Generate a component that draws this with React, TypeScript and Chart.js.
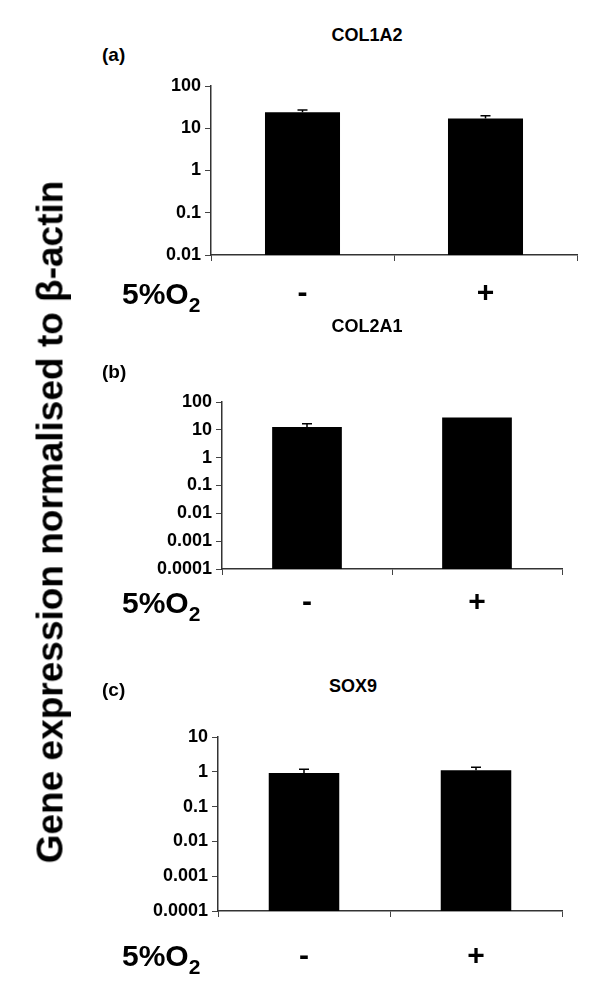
import React, { useEffect, useRef } from "react";
import { Chart, registerables } from "chart.js";

Chart.register(...registerables);

const FONT = "'Liberation Sans', Arial, Helvetica, sans-serif";

// ---- data ----
const CATEGORIES = ["-", "+"];

const COL1A2_MEAN = [24, 17];
const COL1A2_ERR_TOP = [27, 19.8];

const COL2A1_MEAN = [12.6, 28];
const COL2A1_ERR_TOP = [16.6, 28];

const SOX9_MEAN = [0.93, 1.11];
const SOX9_ERR_TOP = [1.19, 1.36];

const TICKS_A = [0.01, 0.1, 1, 10, 100];
const TICK_LABELS_A = ["0.01", "0.1", "1", "10", "100"];

const TICKS_B = [0.0001, 0.001, 0.01, 0.1, 1, 10, 100];
const TICK_LABELS_B = ["0.0001", "0.001", "0.01", "0.1", "1", "10", "100"];

const TICKS_C = [0.0001, 0.001, 0.01, 0.1, 1, 10];
const TICK_LABELS_C = ["0.0001", "0.001", "0.01", "0.1", "1", "10"];

const PANEL_TITLES = ["COL1A2", "COL2A1", "SOX9"];
const PANEL_LETTERS = ["(a)", "(b)", "(c)"];
const Y_TITLE = "Gene expression normalised to β-actin";

// ---- layout (pixel geometry) ----
type Spec = {
  mean: number[];
  errTop: number[];
  ticks: number[];
  tickLabels: string[];
  left: number;
  right: number;
  top: number;
  bottom: number;
  xPad: number;
};

const SPECS: Spec[] = [
  { mean: COL1A2_MEAN, errTop: COL1A2_ERR_TOP, ticks: TICKS_A, tickLabels: TICK_LABELS_A, left: 211, right: 577, top: 86, bottom: 255, xPad: 15 },
  { mean: COL2A1_MEAN, errTop: COL2A1_ERR_TOP, ticks: TICKS_B, tickLabels: TICK_LABELS_B, left: 222, right: 562, top: 402, bottom: 569, xPad: 10 },
  { mean: SOX9_MEAN, errTop: SOX9_ERR_TOP, ticks: TICKS_C, tickLabels: TICK_LABELS_C, left: 218, right: 562, top: 737, bottom: 911, xPad: 22 },
];

const PAD_TOP = 20;
const X_AXIS_H = 80;

const errorBarPlugin = {
  id: "errbars",
  afterDatasetsDraw(chart: any, _args: any, opts: any) {
    const tops: number[] = opts.tops || [];
    const meta = chart.getDatasetMeta(0);
    const y = chart.scales.y;
    const ctx = chart.ctx;
    ctx.save();
    ctx.strokeStyle = "#000";
    ctx.lineWidth = 1.5;
    meta.data.forEach((bar: any, i: number) => {
      const x = bar.x;
      const y0 = bar.y;
      const y1 = y.getPixelForValue(tops[i]);
      if (y0 - y1 < 0.5) return;
      ctx.beginPath();
      ctx.moveTo(x, y0);
      ctx.lineTo(x, y1);
      ctx.moveTo(x - 5, y1);
      ctx.lineTo(x + 5, y1);
      ctx.stroke();
    });
    ctx.restore();
  },
};

function Panel({ spec }: { spec: Spec }) {
  const ref = useRef<HTMLCanvasElement>(null);
  const h = spec.bottom - spec.top + PAD_TOP + X_AXIS_H;
  useEffect(() => {
    if (!ref.current) return;
    const chart = new Chart(ref.current, {
      type: "bar",
      data: {
        labels: CATEGORIES,
        datasets: [
          {
            data: spec.mean,
            backgroundColor: "#000",
            borderWidth: 0,
            barPercentage: 0.41,
            categoryPercentage: 1.0,
          },
        ],
      },
      options: {
        responsive: false,
        animation: false,
        devicePixelRatio: 1,
        layout: { padding: { top: PAD_TOP, left: 0, right: 600 - spec.right, bottom: 0 } },
        plugins: {
          legend: { display: false },
          tooltip: { enabled: false },
          title: { display: false },
          errbars: { tops: spec.errTop },
        } as any,
        scales: {
          x: {
            type: "category",
            offset: true,
            grid: { offset: true, drawOnChartArea: false, drawTicks: true, tickLength: 6, color: "#444", lineWidth: 1 },
            border: { display: true, color: "#333", width: 1.5 },
            ticks: {
              color: "#000",
              font: { family: FONT, size: 30, weight: "bold" },
              padding: spec.xPad,
              maxRotation: 0,
              autoSkip: false,
            },
            afterFit: (s: any) => {
              s.height = X_AXIS_H;
            },
          },
          y: {
            type: "logarithmic",
            min: spec.ticks[0],
            max: spec.ticks[spec.ticks.length - 1],
            afterBuildTicks: (s: any) => {
              s.ticks = spec.ticks.map((v) => ({ value: v, major: true }));
            },
            grid: { drawOnChartArea: false, drawTicks: true, tickLength: 6, color: "#444", lineWidth: 1 },
            border: { display: true, color: "#333", width: 1.5 },
            ticks: {
              color: "#000",
              font: { family: FONT, size: 18, weight: "bold" },
              padding: 4,
              autoSkip: false,
              callback: (_v: any, i: number) => spec.tickLabels[i],
            },
            afterFit: (s: any) => {
              s.width = spec.left;
            },
          },
        },
      },
      plugins: [errorBarPlugin],
    });
    return () => chart.destroy();
  }, [spec]);
  return (
    <canvas
      ref={ref}
      width={600}
      height={h}
      style={{ position: "absolute", left: 0, top: spec.top - PAD_TOP, width: 600, height: h }}
    />
  );
}

const textBase: React.CSSProperties = {
  position: "absolute",
  fontFamily: FONT,
  fontWeight: "bold",
  color: "#000",
  whiteSpace: "nowrap",
};

const TITLE_POS = [
  { x: 367, y: 35 },
  { x: 367, y: 326 },
  { x: 353, y: 686 },
];
const LETTER_POS = [54, 371, 689];
const O2_POS = [293.5, 603, 956];

export default function App() {
  return (
    <div style={{ position: "absolute", left: 0, top: 0, width: 600, height: 1002, background: "#fff", overflow: "hidden" }}>
      {SPECS.map((s, i) => (
        <Panel key={i} spec={s} />
      ))}
      {PANEL_TITLES.map((t, i) => (
        <div
          key={"t" + i}
          style={{ ...textBase, fontSize: 18, lineHeight: "18px", left: TITLE_POS[i].x, top: TITLE_POS[i].y - 9, transform: "translateX(-50%)" }}
        >
          {t}
        </div>
      ))}
      {PANEL_LETTERS.map((t, i) => (
        <div key={"l" + i} style={{ ...textBase, fontSize: 19, lineHeight: "19px", left: 102, top: LETTER_POS[i] - 9.5 }}>
          {t}
        </div>
      ))}
      {O2_POS.map((y, i) => (
        <div key={"o" + i} style={{ ...textBase, fontSize: 30, lineHeight: "30px", left: 122, top: y - 14.6 }}>
          5%O
          <span style={{ fontSize: 21, position: "relative", top: 8 }}>2</span>
        </div>
      ))}
      <div
        style={{
          ...textBase,
          fontSize: 37,
          lineHeight: "37px",
          left: 50,
          top: 522,
          transform: "translate(-50%, -50%) rotate(-90deg)",
        }}
      >
        {Y_TITLE}
      </div>
    </div>
  );
}
